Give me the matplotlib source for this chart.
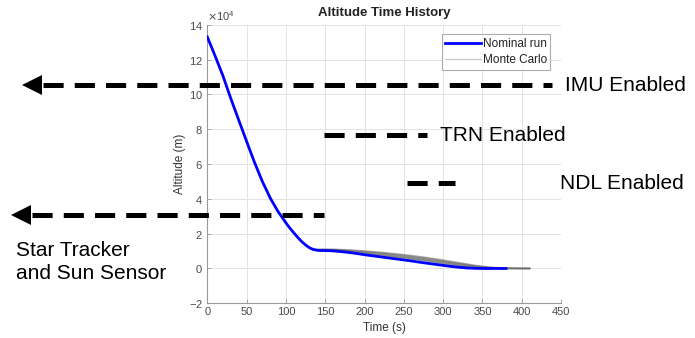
import matplotlib
matplotlib.use("Agg")
import matplotlib.pyplot as plt
from matplotlib.ticker import ScalarFormatter

plt.rcParams['font.family'] = ['Liberation Sans', 'DejaVu Sans']
plt.rcParams['lines.scale_dashes'] = False

# ---------------- data ----------------
# Nominal run (time in s, altitude in m)
nom_t = [0, 10, 20, 30, 40, 50, 60, 70, 80, 90, 100, 105, 110, 115, 120, 125,
         130, 135, 140, 145, 150, 160, 170, 180, 190, 200, 210, 220, 230, 240,
         250, 260, 270, 280, 290, 300, 310, 320, 330, 340, 350, 360, 370, 380]
nom_alt = [133000, 122000, 110500, 97500, 85200, 73000, 61000, 50000, 40500,
           32700, 26200, 23200, 20500, 17900, 15500, 13500, 11900, 10900, 10400,
           10300, 10300, 10100, 9700, 9200, 8600, 7900, 7300, 6700, 6100, 5500,
           4900, 4300, 3600, 3000, 2400, 1800, 1200, 700, 300, 100, 0, 0, 0, 0]

# Monte Carlo runs (after nominal branch point)
mc_t = [135, 150, 165, 180, 200, 220, 240, 260, 280, 300, 320, 340, 360, 380, 400, 410]
mc_run1 = [11000, 11100, 11000, 10700, 10100, 9400, 8500, 7500, 6300, 4900, 3400, 1900, 800, 200, 0, 0]
mc_run2 = [10900, 10900, 10800, 10400, 9700, 8900, 8000, 6900, 5700, 4300, 2900, 1500, 500, 100, 0, 0]
mc_run3 = [10800, 10700, 10500, 10100, 9300, 8500, 7500, 6400, 5200, 3900, 2500, 1200, 300, 0, 0, 0]
mc_run4 = [10700, 10600, 10300, 9800, 9000, 8100, 7100, 6000, 4800, 3500, 2100, 900, 200, 0, 0, 0]
mc_run5 = [10600, 10400, 10100, 9500, 8600, 7700, 6700, 5600, 4400, 3100, 1800, 700, 100, 0, 0, 0]
mc_run6 = [10500, 10300, 9900, 9200, 8300, 7300, 6300, 5200, 4000, 2700, 1500, 500, 0, 0, 0, 0]
mc_run7 = [10800, 10800, 10600, 10200, 9500, 8700, 7700, 6600, 5400, 4100, 2700, 1300, 400, 0, 0, 0]
mc_run8 = [10900, 11000, 10900, 10500, 9900, 9100, 8200, 7200, 6000, 4600, 3100, 1700, 600, 100, 0, 0]
mc_run9 = [10700, 10500, 10200, 9700, 8800, 7900, 6900, 5800, 4600, 3300, 2000, 800, 200, 0, 0, 0]
mc_runs = [mc_run1, mc_run2, mc_run3, mc_run4, mc_run5, mc_run6, mc_run7, mc_run8, mc_run9]

x_ticks = [0, 50, 100, 150, 200, 250, 300, 350, 400, 450]
y_ticks = [-20000, 0, 20000, 40000, 60000, 80000, 100000, 120000, 140000]

# Sensor-enable annotations
ann_labels = ['IMU Enabled', 'TRN Enabled', 'NDL Enabled', 'Star Tracker\nand Sun Sensor']
ann_level = [105300, 76600, 49000, 30500]
ann_x0 = [-236, 148, 254, -250]
ann_x1 = [438, 280, 315, 148]
ann_arrow = [True, False, False, True]
ann_text_x = [455, 296, 449, -243]
ann_text_y = [105300, 76600, 49000, 3600]

# ---------------- figure ----------------
W, H = 695, 338
fig = plt.figure(figsize=(W / 100, H / 100), dpi=100)
ax = fig.add_axes([207.3 / W, (H - 303.3) / H, (561 - 207.3) / W, (303.3 - 24.7) / H])

tick_col = '#4a4a4a'
for run in mc_runs:
    ax.plot(mc_t, run, color='#6e6e6e', lw=1.0, alpha=0.45, zorder=2)
ax.plot(nom_t, nom_alt, color='#0000ff', lw=2.0, zorder=3, label='Nominal run')
ax.plot([], [], color='#c8c8c8', lw=0.8, label='Monte Carlo')

ax.set_xlim(0, 450)
ax.set_ylim(-20000, 140000)
ax.set_xticks(x_ticks)
ax.set_yticks(y_ticks)
fmt = ScalarFormatter(useMathText=True)
fmt.set_powerlimits((4, 4))
ax.yaxis.set_major_formatter(fmt)
ax.yaxis.get_offset_text().set_fontsize(8)
ax.yaxis.get_offset_text().set_color(tick_col)

ax.grid(True, color='#e3e3e3', lw=0.7, zorder=0)
ax.set_axisbelow(True)
for s in ['top', 'right']:
    ax.spines[s].set_visible(False)
for s in ['left', 'bottom']:
    ax.spines[s].set_color('#9a9a9a')
    ax.spines[s].set_linewidth(0.8)
ax.tick_params(direction='in', length=3, width=0.6, colors='#9a9a9a',
               labelcolor=tick_col, labelsize=8, pad=3)

ax.set_title('Altitude Time History', fontsize=9.5, fontweight='bold', color='#222222', pad=6)
ax.set_xlabel('Time (s)', fontsize=8.5, color='#333333', labelpad=3)
ax.set_ylabel('Altitude (m)', fontsize=8.5, color='#333333', labelpad=2)

leg = ax.legend(loc='upper right', bbox_to_anchor=(0.97, 0.965), fontsize=8.5,
                frameon=True, fancybox=False, handlelength=3.0, handletextpad=0.15,
                borderpad=0.3, labelspacing=0.35, borderaxespad=0)
leg.get_frame().set_edgecolor('#9a9a9a')
leg.get_frame().set_linewidth(0.8)
for t in leg.get_texts():
    t.set_color('#222222')

# annotations
for lab, lvl, x0, x1, arr, tx, ty in zip(ann_labels, ann_level, ann_x0, ann_x1,
                                         ann_arrow, ann_text_x, ann_text_y):
    start = x0 + 27 if arr else x0
    ax.plot([start, x1], [lvl, lvl], color='black', lw=3.6, clip_on=False,
            dashes=(14.5, 8), dash_capstyle='butt', zorder=5)
    if arr:
        ax.plot([x0 + 13.5], [lvl], marker='<', markersize=15, color='black',
                clip_on=False, zorder=6, markeredgewidth=0)
    ax.text(tx, ty, lab, fontsize=15, va='center', ha='left', clip_on=False,
            linespacing=1.25)

fig.savefig('out.png', dpi=100)
